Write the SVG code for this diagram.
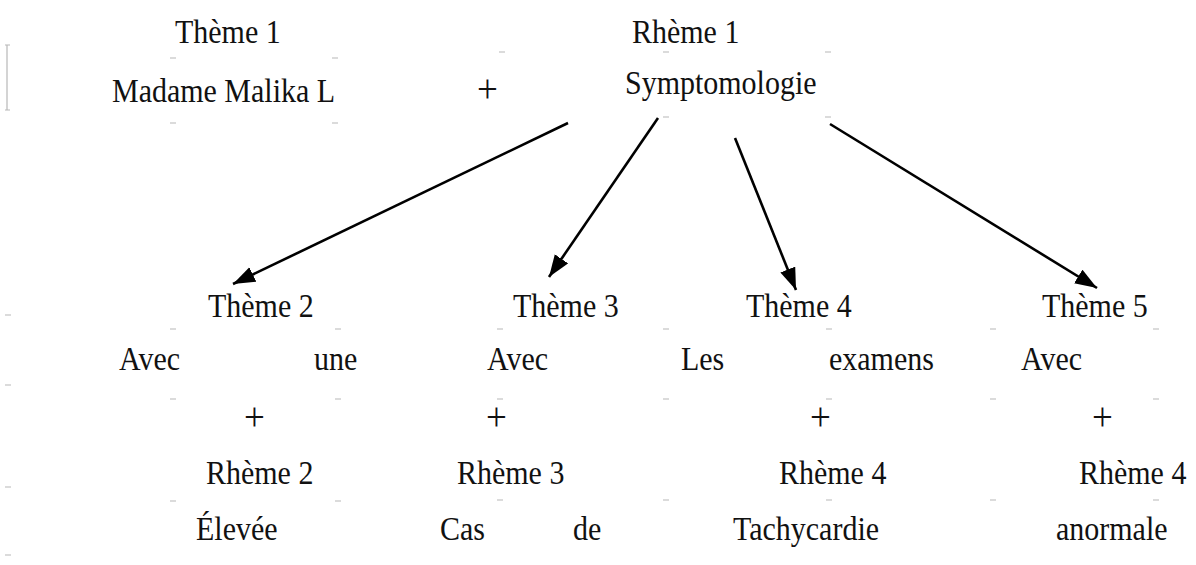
<svg xmlns="http://www.w3.org/2000/svg" width="1196" height="565" viewBox="0 0 1196 565">
<style>
text{font-family:"Liberation Serif","Times New Roman",serif;font-size:30px;fill:#111}
text.p{font-size:37px}
.tk{stroke:#b8b8b8;stroke-width:1.2}
.cn{stroke:#000;stroke-width:2.6;fill:none;marker-end:url(#ah)}
</style>
<defs>
<marker id="ah" markerUnits="userSpaceOnUse" markerWidth="24" markerHeight="18" refX="22" refY="8" orient="auto">
<path d="M0,0 L22,8 L0,16 Z" fill="#000"/>
</marker>
</defs>
<rect width="1196" height="565" fill="#fff"/>
<g id="ticks">
<path class="tk" d="M7,45 v65 M5,45 h5 M5,110 h5 M170,58 h6 M170,123 h6 M332,58 h6 M332,123 h6 M499,52 h6 M663,52 h6 M825,52 h6 M663,117 h6 M825,117 h6 M5,315 h6 M5,385 h6 M5,487 h6 M5,555 h6 M170,329 h6 M170,399 h6 M170,501 h6 M335,329 h6 M335,399 h6 M335,501 h6 M497,329 h6 M497,399 h6 M497,500 h6 M663,329 h6 M663,399 h6 M663,500 h6 M826,329 h6 M826,399 h6 M826,500 h6 M990,329 h6 M990,399 h6 M990,500 h6 M1153,329 h6 M1153,399 h6 M1153,500 h6"/>
</g>
<g transform="scale(1,1.1)">
<g id="theme1">
<text x="175" y="39.1">Thème 1</text>
<text x="112" y="92.7">Madame Malika L</text>
</g>
<g id="plus1"><text class="p" x="477" y="92.7">+</text></g>
<g id="rheme1">
<text x="632" y="39.1">Rhème 1</text>
<text x="625" y="85.5">Symptomologie</text>
</g>
<g id="branch2">
<text x="208" y="288.2">Thème 2</text>
<text x="119" y="336.4">Avec</text>
<text x="314" y="336.4">une</text>
<text class="p" x="244" y="390.9">+</text>
<text x="206" y="440">Rhème 2</text>
<text x="196" y="490.9">Élevée</text>
</g>
<g id="branch3">
<text x="513" y="288.2">Thème 3</text>
<text x="487" y="336.4">Avec</text>
<text class="p" x="486" y="390.9">+</text>
<text x="457" y="440">Rhème 3</text>
<text x="440" y="490.9">Cas</text>
<text x="573" y="490.9">de</text>
</g>
<g id="branch4">
<text x="746" y="288.2">Thème 4</text>
<text x="681" y="336.4">Les</text>
<text x="829" y="336.4">examens</text>
<text class="p" x="810" y="390.9">+</text>
<text x="779" y="440">Rhème 4</text>
<text x="733" y="490.9">Tachycardie</text>
</g>
<g id="branch5">
<text x="1042" y="288.2">Thème 5</text>
<text x="1021" y="336.4">Avec</text>
<text class="p" x="1092" y="390.9">+</text>
<text x="1079" y="440">Rhème 4</text>
<text x="1056" y="490.9">anormale</text>
</g>
</g>
<g id="connectors">
<line class="cn" x1="568" y1="123" x2="233" y2="284"/>
<line class="cn" x1="658" y1="118" x2="549" y2="277"/>
<line class="cn" x1="735" y1="138" x2="796" y2="290"/>
<line class="cn" x1="830" y1="124" x2="1097" y2="288"/>
</g>
</svg>
